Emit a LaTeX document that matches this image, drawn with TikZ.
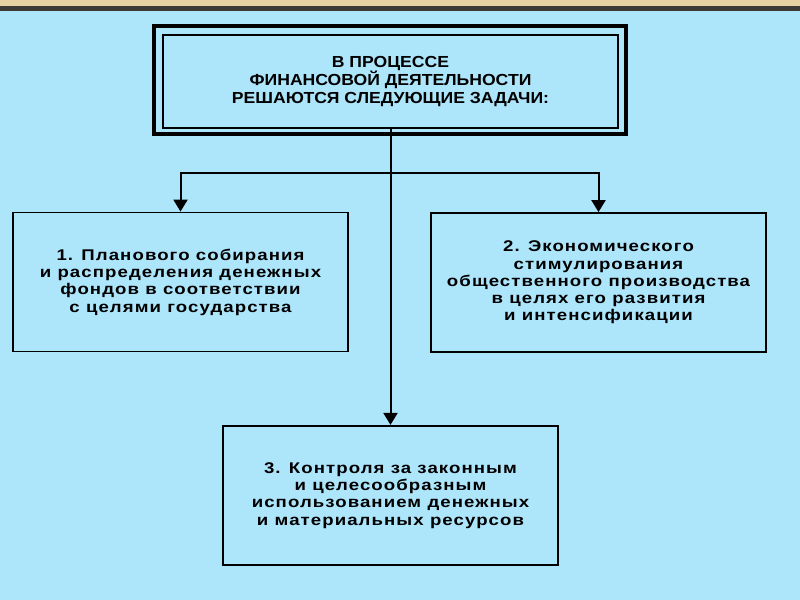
\documentclass[tikz,border=0pt]{standalone}
\usepackage{fontspec}
\setmainfont{Liberation Sans}
\newfontfamily\taskfont{Liberation Sans}[FakeStretch=1.2, LetterSpace=7]
\newfontfamily\headfont{Liberation Sans}[FakeStretch=1.1]
\usetikzlibrary{positioning, arrows.meta}
\definecolor{sky}{RGB}{173,229,251}
\definecolor{sand}{RGB}{230,210,162}
\definecolor{rim}{RGB}{60,58,54}
\tikzset{
  task/.style = {
    shape = rectangle,
    draw = black,
    line width = 1.8bp,
    align = center,
    inner sep = 0pt,
    minimum width = 335bp,
    minimum height = 139bp,
    font = \taskfont\bfseries\fontsize{15.5bp}{17.3bp}\selectfont,
  }
}
\tikzset{
  head/.style = {
    shape = rectangle,
    draw = black,
    line width = 1.8bp,
    align = center,
    inner sep = 0pt,
    minimum width = 455bp,
    minimum height = 93bp,
    font = \headfont\bfseries\fontsize{16bp}{18bp}\selectfont,
  }
}
\tikzset{
  link/.style = {
    draw = black, line width = 2bp, -{Triangle[length = 12bp, width = 14bp]},
  }
}

\begin{document}
\begin{tikzpicture}[x=1bp, y=-1bp]
        \fill[sky] (0,0) rectangle (800,600);
        \fill[sand] (0,0) rectangle (800,6);
        \fill[rim] (0,6) rectangle (800,11);
        \useasboundingbox (0,0) rectangle (800,600);
        \node[head](top) at (390.5,81.5){В ПРОЦЕССЕ\\ФИНАНСОВОЙ ДЕЯТЕЛЬНОСТИ\\РЕШАЮТСЯ СЛЕДУЮЩИЕ ЗАДАЧИ:};
        \draw[line width = 3.5bp]([shift={(-8,5)}]top.south west) rectangle ([shift={(7,-8)}]top.north east);
        \node[task](plan) at (180.5,282){1. Планового собирания\\и распределения денежных\\фондов в соответствии\\с целями государства};
        \node[task](stim) at (598.5,282.5){2. Экономического\\стимулирования\\общественного производства\\в целях его развития\\и интенсификации};
        \node[task, below=296bp of top](ctrl){3. Контроля за законным\\и целесообразным\\использованием денежных\\и материальных ресурсов};
        \coordinate (fork) at (391,173);
        \draw[link](top.south -| ctrl.north) -- (ctrl.north);
        \draw[link](fork) -| (plan.north);
        \draw[link](fork) -| (stim.north);
    \end{tikzpicture}
\end{document}
